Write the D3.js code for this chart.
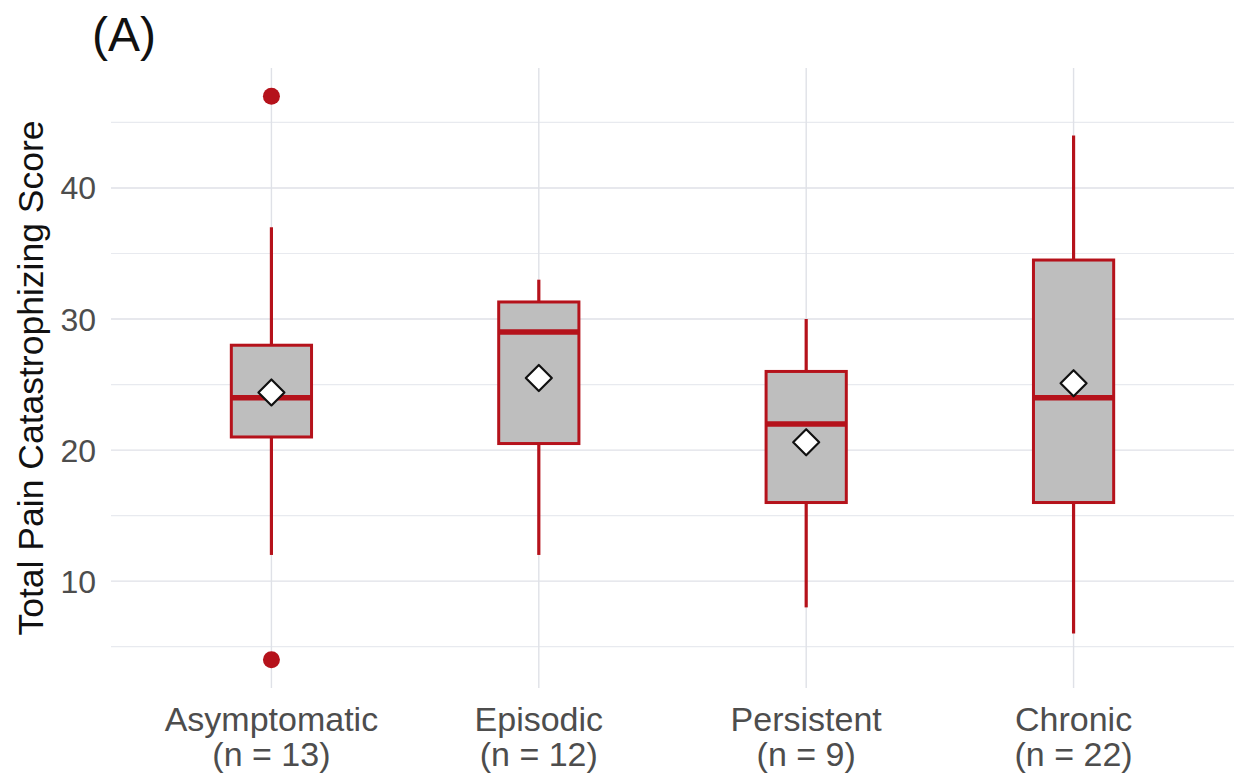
<!DOCTYPE html>
<html>
<head>
<meta charset="utf-8">
<script src="https://cdn.jsdelivr.net/npm/d3@7"></script>
<style>
  body { margin: 0; background: #fff; }
  svg { display: block; font-family: "Liberation Sans", Arial, sans-serif; }
</style>
</head>
<body>
<div id="chart"></div>
<script>
// data
const groups   = ["Asymptomatic", "Episodic", "Persistent", "Chronic"];
const counts   = [13, 12, 9, 22];
const whiskLo  = [12, 12, 8, 6];
const q1       = [21, 20.5, 16, 16];
const medians  = [24, 29, 22, 24];
const q3       = [28, 31.3, 26, 34.5];
const whiskHi  = [37, 33, 30, 44];
const means    = [24.4, 25.5, 20.6, 25.1];
const outliers = [[47, 4], [], [], []];
const yTicks   = [10, 20, 30, 40];
const yMinor   = [5, 15, 25, 35, 45];

const W = 1237, H = 778;
const margin = { top: 68, right: 3, bottom: 90, left: 111 };
const red = "#b5121b";

const svg = d3.select("#chart").append("svg")
    .attr("width", W).attr("height", H);

const x = d3.scaleBand()
    .domain(groups)
    .range([margin.left, W - margin.right])
    .paddingOuter(0.1)
    .paddingInner(0);
// band center helper
const cx = g => x(g) + x.bandwidth() / 2;

const y = d3.scaleLinear()
    .domain([1.85, 49.15])
    .range([H - margin.bottom, margin.top]);

const grid = svg.append("g");
// minor + major horizontal lines
grid.selectAll("line.minor").data(yMinor).join("line")
    .attr("x1", margin.left).attr("x2", W - margin.right)
    .attr("y1", d => y(d)).attr("y2", d => y(d))
    .attr("stroke", "#e8eaef").attr("stroke-width", 1.2);
grid.selectAll("line.major").data(yTicks).join("line")
    .attr("x1", margin.left).attr("x2", W - margin.right)
    .attr("y1", d => y(d)).attr("y2", d => y(d))
    .attr("stroke", "#dfe1e7").attr("stroke-width", 1.4);
grid.selectAll("line.vert").data(groups).join("line")
    .attr("x1", d => cx(d)).attr("x2", d => cx(d))
    .attr("y1", margin.top).attr("y2", H - margin.bottom)
    .attr("stroke", "#dfe1e7").attr("stroke-width", 1.4);

// y tick labels
svg.append("g").selectAll("text").data(yTicks).join("text")
    .attr("x", 96).attr("y", d => y(d))
    .attr("dy", "0.36em")
    .attr("text-anchor", "end")
    .attr("font-size", 32)
    .attr("fill", "#4d4d4d")
    .text(d => d);

// x labels (two lines)
const xl = svg.append("g").selectAll("text").data(groups).join("text")
    .attr("text-anchor", "middle")
    .attr("font-size", 34)
    .attr("fill", "#4d4d4d");
xl.append("tspan").attr("x", d => cx(d)).attr("y", 731).text(d => d);
xl.append("tspan").attr("x", d => cx(d)).attr("y", 766).text((d, i) => `(n = ${counts[i]})`);

// y axis title
svg.append("text")
    .attr("transform", "translate(43,378) rotate(-90)")
    .attr("text-anchor", "middle")
    .attr("font-size", 35.5)
    .attr("fill", "#111")
    .text("Total Pain Catastrophizing Score");

// panel tag
svg.append("text")
    .attr("x", 92).attr("y", 51)
    .attr("font-size", 48)
    .attr("fill", "#111")
    .text("(A)");

const boxW = x.bandwidth() * 0.3;
const boxes = svg.append("g").selectAll("g").data(groups).join("g");

// whiskers
boxes.append("line")
    .attr("x1", d => cx(d)).attr("x2", d => cx(d))
    .attr("y1", (d, i) => y(whiskHi[i])).attr("y2", (d, i) => y(q3[i]))
    .attr("stroke", red).attr("stroke-width", 3.2);
boxes.append("line")
    .attr("x1", d => cx(d)).attr("x2", d => cx(d))
    .attr("y1", (d, i) => y(q1[i])).attr("y2", (d, i) => y(whiskLo[i]))
    .attr("stroke", red).attr("stroke-width", 3.2);

// box
boxes.append("rect")
    .attr("x", d => cx(d) - boxW / 2)
    .attr("width", boxW)
    .attr("y", (d, i) => y(q3[i]))
    .attr("height", (d, i) => y(q1[i]) - y(q3[i]))
    .attr("fill", "#bebebe")
    .attr("stroke", red).attr("stroke-width", 3);

// median
boxes.append("line")
    .attr("x1", d => cx(d) - boxW / 2).attr("x2", d => cx(d) + boxW / 2)
    .attr("y1", (d, i) => y(medians[i])).attr("y2", (d, i) => y(medians[i]))
    .attr("stroke", red).attr("stroke-width", 5.5);

// outliers
boxes.selectAll("circle").data((d, i) => outliers[i].map(v => ({ g: d, v }))).join("circle")
    .attr("cx", d => cx(d.g)).attr("cy", d => y(d.v))
    .attr("r", 8.5).attr("fill", red);

// mean diamonds
const dm = 13;
boxes.append("path")
    .attr("d", (d, i) => {
        const px = cx(d), py = y(means[i]);
        return `M${px},${py - dm}L${px + dm},${py}L${px},${py + dm}L${px - dm},${py}Z`;
    })
    .attr("fill", "#fff")
    .attr("stroke", "#111").attr("stroke-width", 2.2)
    .attr("stroke-linejoin", "round");
</script>
</body>
</html>
